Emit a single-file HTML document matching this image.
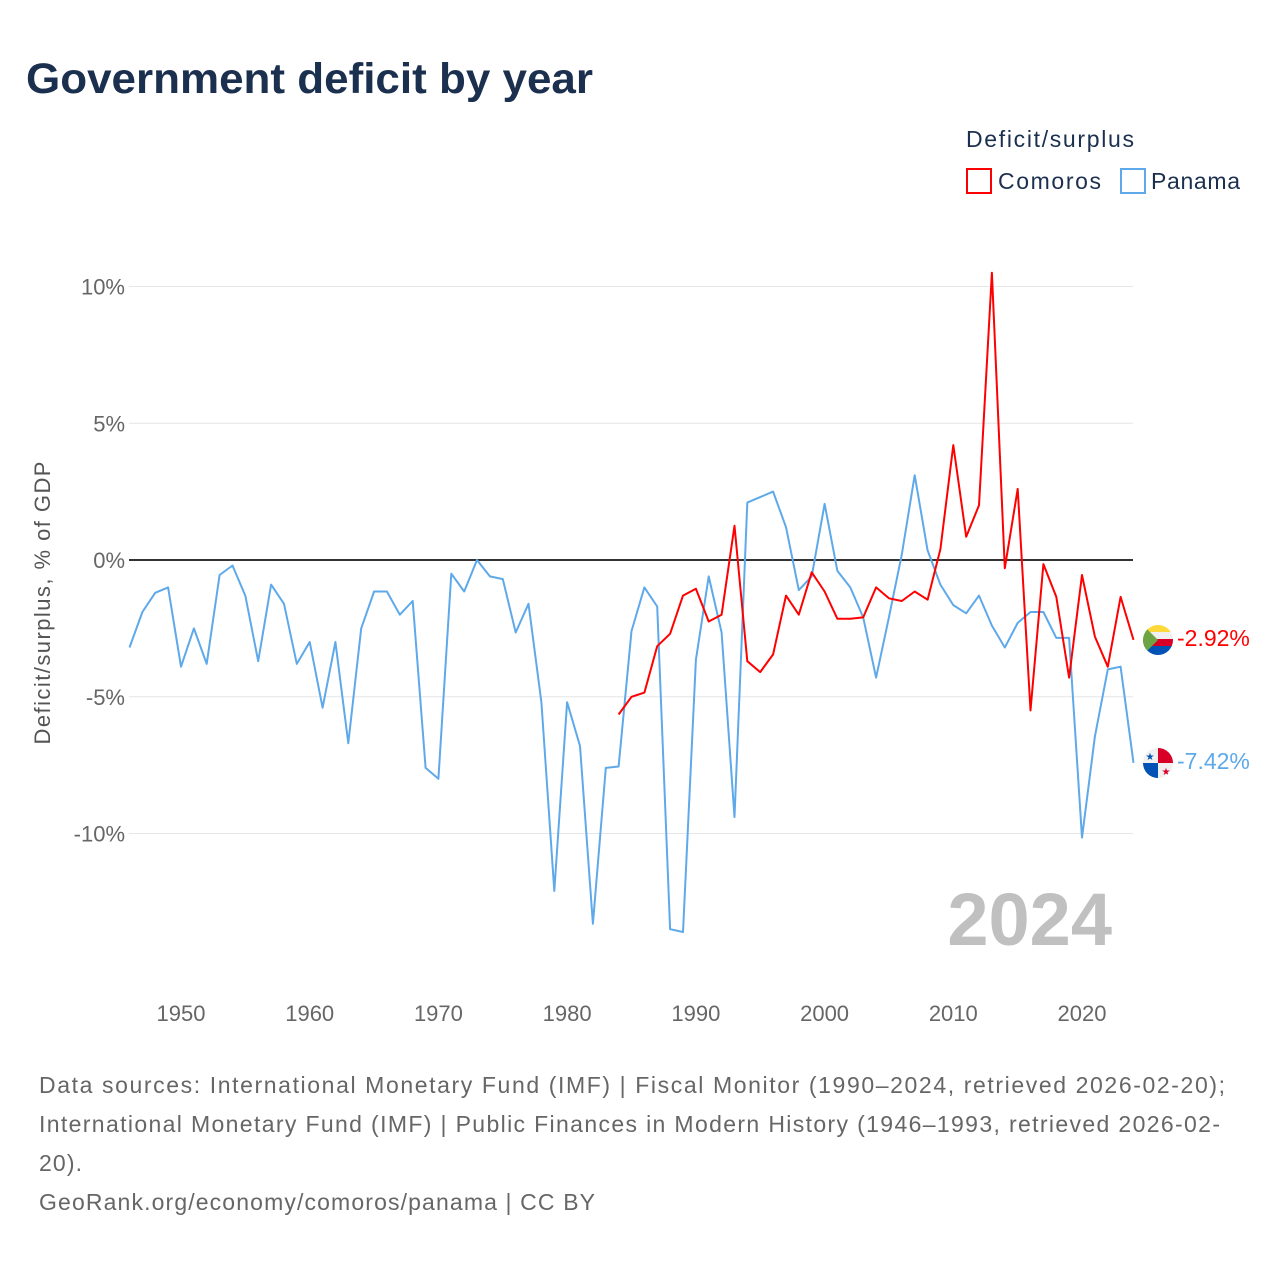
<!DOCTYPE html>
<html><head><meta charset="utf-8"><style>
body{margin:0;background:#fff;font-family:"Liberation Sans",sans-serif;}
svg text{font-family:"Liberation Sans",sans-serif;}
</style></head><body>
<svg id="chart" width="1280" height="1280" viewBox="0 0 1280 1280">
<text x="26" y="93" font-size="43" font-weight="bold" fill="#1b2f4e" textLength="567" lengthAdjust="spacingAndGlyphs">Government deficit by year</text>
<text x="966" y="147" font-size="23" fill="#1b2f4e" textLength="168">Deficit/surplus</text>
<g><rect x="967" y="169" width="24" height="24" fill="none" stroke="#ff0000" stroke-width="2"/><text x="998" y="189" font-size="23" fill="#1b2f4e" textLength="103">Comoros</text></g>
<g><rect x="1121" y="169" width="24" height="24" fill="none" stroke="#5ea9ea" stroke-width="2"/><text x="1151" y="189" font-size="23" fill="#1b2f4e" textLength="89">Panama</text></g>
<g id="grid"></g>
<g id="yticks"></g>
<g id="xticks"></g>
<text transform="translate(50,603) rotate(-90)" text-anchor="middle" font-size="22" fill="#555" textLength="283">Deficit/surplus, % of GDP</text>
<text x="1112" y="945" text-anchor="end" font-size="74" font-weight="bold" fill="#c0c0c0">2024</text>
<g id="series"></g>
<g>
<clipPath id="cc"><circle cx="1158" cy="640" r="15"/></clipPath>
<g clip-path="url(#cc)"><rect x="1143" y="625" width="30" height="8" fill="#ffd83a"/><rect x="1143" y="632" width="30" height="8" fill="#f0f0f0"/><rect x="1143" y="639" width="30" height="8" fill="#d80027"/><rect x="1143" y="646" width="30" height="9" fill="#0052b4"/><path d="M1143 625 L1158 640 L1143 655Z" fill="#6da544"/></g></g>
<g>
<clipPath id="cp"><circle cx="1158" cy="763" r="15"/></clipPath>
<g clip-path="url(#cp)"><rect x="1143" y="748" width="30" height="30" fill="#f0f0f0"/><rect x="1158" y="748" width="15" height="15" fill="#d80027"/><rect x="1143" y="763" width="15" height="15" fill="#0052b4"/><text x="1150" y="760" font-size="10" fill="#0052b4" text-anchor="middle">★</text><text x="1166" y="775" font-size="10" fill="#d80027" text-anchor="middle">★</text></g></g>
<text id="lblC" x="1177" y="646" font-size="23" fill="#ff0000"></text>
<text id="lblP" x="1177" y="769" font-size="23" fill="#5ea9ea"></text>
<text font-size="23" fill="#666">
<tspan x="39" y="1093" textLength="1186">Data sources: International Monetary Fund (IMF) | Fiscal Monitor (1990–2024, retrieved 2026-02-20);</tspan>
<tspan x="39" y="1132" textLength="1181">International Monetary Fund (IMF) | Public Finances in Modern History (1946–1993, retrieved 2026-02-</tspan>
<tspan x="39" y="1171" textLength="43">20).</tspan>
<tspan x="39" y="1210" textLength="556">GeoRank.org/economy/comoros/panama | CC BY</tspan>
</text>
</svg>
<script>
const panamaStart = 1946;
const panamaValues = [-3.2,-1.9,-1.2,-1.0,-3.9,-2.5,-3.8,-0.55,-0.2,-1.3,-3.7,-0.9,-1.6,-3.8,-3.0,-5.4,-3.0,-6.7,-2.5,-1.15,-1.15,-2.0,-1.5,-7.6,-8.0,-0.5,-1.15,0,-0.6,-0.7,-2.65,-1.6,-5.2,-12.1,-5.2,-6.8,-13.3,-7.6,-7.55,-2.6,-1.0,-1.7,-13.5,-13.6,-3.65,-0.6,-2.65,-9.4,2.1,2.3,2.5,1.2,-1.1,-0.6,2.05,-0.4,-1.0,-2.1,-4.3,-2.1,0.2,3.1,0.35,-0.9,-1.65,-1.95,-1.3,-2.4,-3.2,-2.3,-1.9,-1.9,-2.85,-2.85,-10.15,-6.45,-4.0,-3.9,-7.42];
const comorosStart = 1984;
const comorosValues = [-5.65,-5.0,-4.85,-3.15,-2.7,-1.3,-1.05,-2.25,-2.0,1.25,-3.7,-4.1,-3.45,-1.3,-2.0,-0.45,-1.15,-2.15,-2.15,-2.1,-1.0,-1.4,-1.5,-1.15,-1.45,0.4,4.2,0.85,2.0,10.5,-0.3,2.6,-5.5,-0.15,-1.35,-4.3,-0.55,-2.8,-3.9,-1.35,-2.92];
const yTicks = [10,5,0,-5,-10];
const yTickLabels = ["10%","5%","0%","-5%","-10%"];
const xTicks = [1950,1960,1970,1980,1990,2000,2010,2020];

const NS="http://www.w3.org/2000/svg";
const x = yr => 129.5 + (yr-1946)*(1133.5-129.5)/78;
const y = v => 560 - v*27.35;
function mk(tag, attrs, parent){const e=document.createElementNS(NS,tag);for(const k in attrs)e.setAttribute(k,attrs[k]);parent.appendChild(e);return e;}
const grid=document.getElementById('grid'), yt=document.getElementById('yticks'), xt=document.getElementById('xticks'), ser=document.getElementById('series');
yTicks.forEach((v,i)=>{
  const l=mk('line',{x1:129,x2:1133,y1:y(v),y2:y(v),stroke:v===0?'#333':'#e6e6e6','stroke-width':v===0?2:1},grid);
  
  
  const t=mk('text',{x:125,y:y(v)+8,'text-anchor':'end','font-size':22,fill:'#666'},yt);
  t.textContent=yTickLabels[i];
  
  
});
xTicks.forEach(yr=>{
  const t=mk('text',{x:x(yr),y:1021,'text-anchor':'middle','font-size':22,fill:'#666'},xt);
  t.textContent=yr;
  
  
});
function line(vals,start,color,name){
  const d=vals.map((v,i)=>(i?'L':'M')+x(start+i).toFixed(1)+' '+y(v).toFixed(1)).join(' ');
  const p=mk('path',{d:d,fill:'none',stroke:color,'stroke-width':2,'stroke-linejoin':'round'},ser);
  
  
}
line(panamaValues,panamaStart,'#5ea9ea','line-panama');
line(comorosValues,comorosStart,'#ff0000','line-comoros');
document.getElementById('lblC').textContent=comorosValues[comorosValues.length-1].toFixed(2)+'%';
document.getElementById('lblP').textContent=panamaValues[panamaValues.length-1].toFixed(2)+'%';
</script>
</body></html>
